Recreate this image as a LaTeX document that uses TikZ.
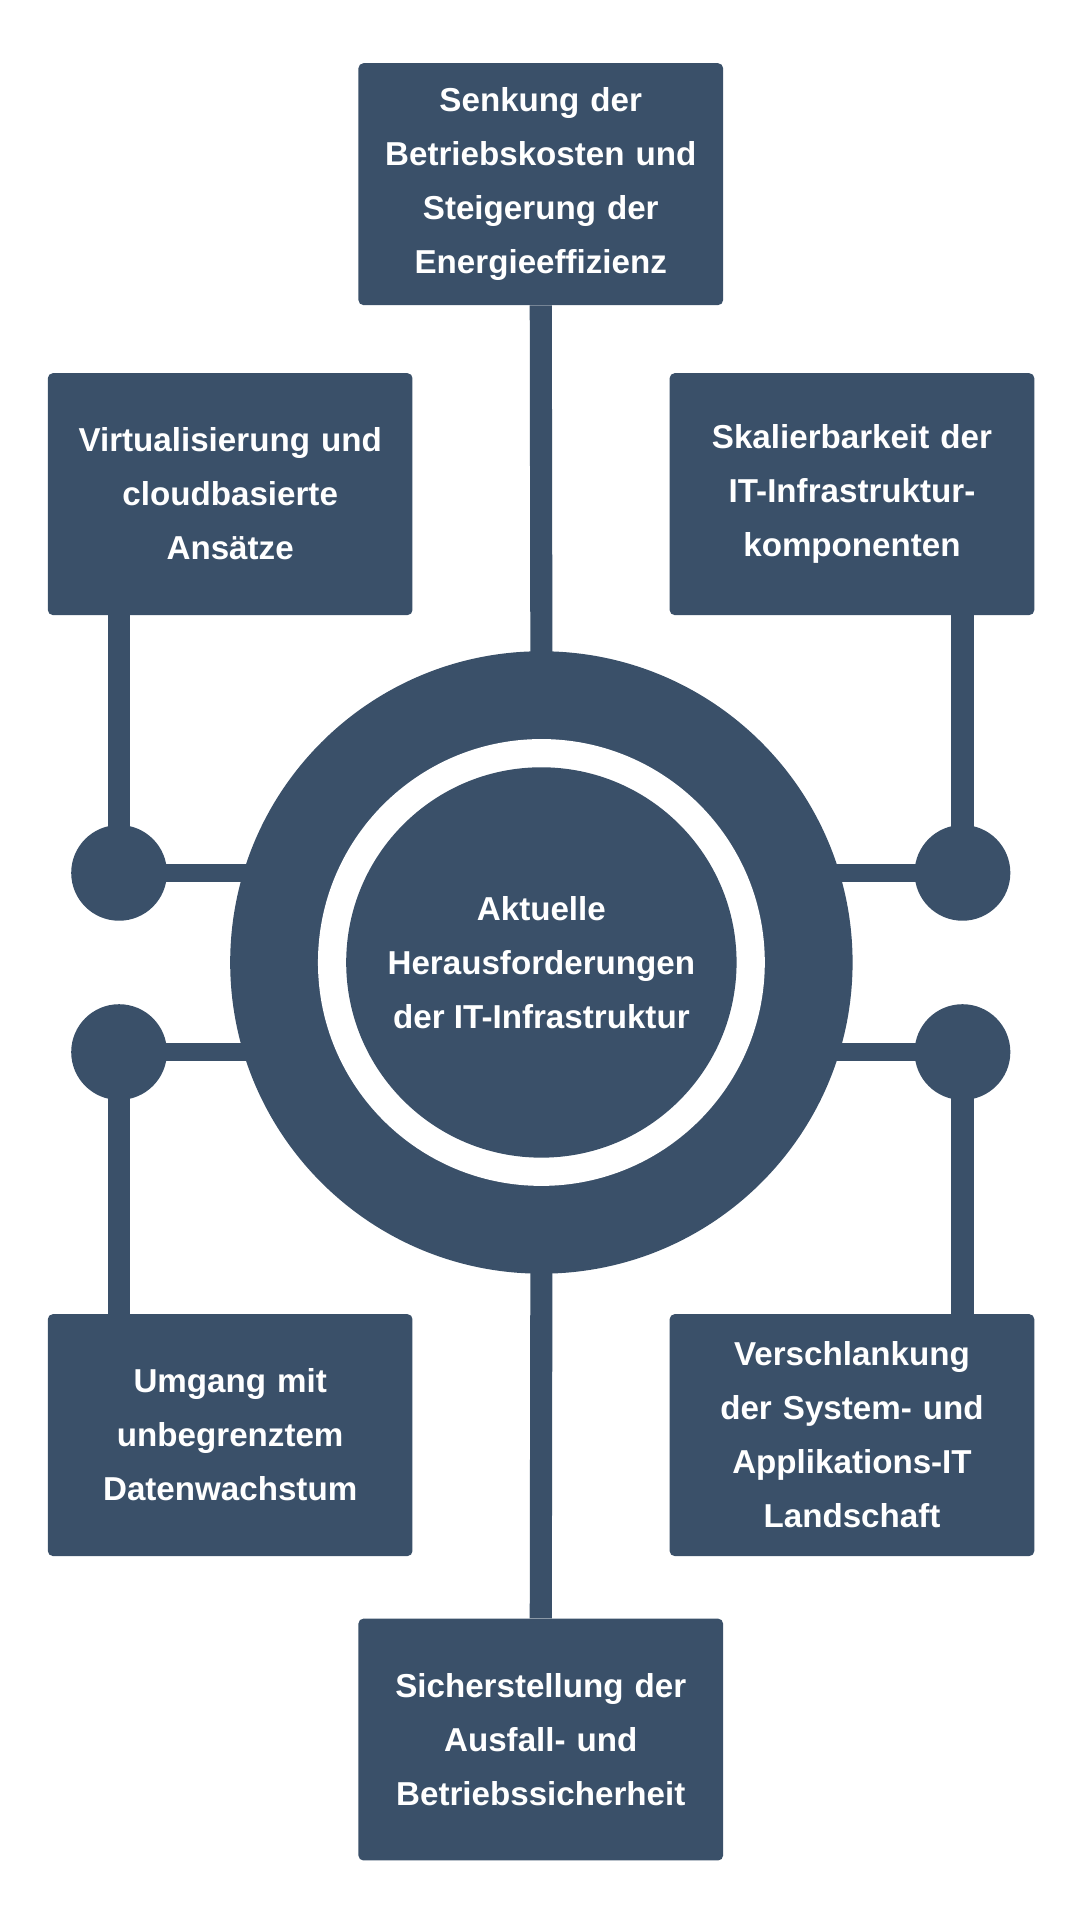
\documentclass[tikz,border=0pt]{standalone}
\usepackage{fontspec}
\setmainfont{Liberation Sans}
\definecolor{navy}{HTML}{3A5069}
\begin{document}
\begin{tikzpicture}[x=1pt,y=-1pt,
  box/.style={fill=navy,rounded corners=4pt,minimum width=297pt,minimum height=197pt,text width=285pt,align=center,text=white,font=\fontsize{27}{44}\selectfont\bfseries,inner sep=0pt},
  conn/.style={draw=navy,line width=18pt},
  hconn/.style={draw=navy,line width=15pt},
  dot/.style={circle,fill=navy,minimum size=78pt,inner sep=0pt}]
\useasboundingbox (0,0) rectangle (880,1564);
\fill[white] (0,0) rectangle (880,1564);
% circles
\node[circle,fill=navy,minimum size=507pt,inner sep=0pt] (big) at (441,784) {};
\fill[white] (441,784) circle (182);
\node[circle,fill=navy,minimum size=318pt,inner sep=0pt,text=white,align=center,font=\fontsize{27}{44}\selectfont\bfseries] (core) at (441,784) {Aktuelle\\Herausforderungen\\der IT-Infrastruktur};
% boxes
\node[box] (top) at (440.5,150) {Senkung der\\Betriebskosten und\\Steigerung der\\Energieeffizienz};
\node[box] (l1) at (187.5,402.5) {Virtualisierung und\\cloudbasierte\\Ansätze};
\node[box] (r1) at (694,402.5) {Skalierbarkeit der\\IT-Infrastruktur-\\komponenten};
\node[box] (l2) at (187.5,1169) {Umgang mit\\unbegrenztem\\Datenwachstum};
\node[box] (r2) at (694,1169) {Verschlankung\\der System- und\\Applikations-IT\\Landschaft};
\node[box] (bot) at (440.5,1417) {Sicherstellung der\\Ausfall- und\\Betriebssicherheit};
% dots
\node[dot] (dl1) at (97,711) {};
\node[dot] (dl2) at (97,857) {};
\node[dot] (dr1) at (784,711) {};
\node[dot] (dr2) at (784,857) {};
\coordinate (cl1) at (215,711);
\coordinate (cl2) at (215,857);
\coordinate (cr1) at (667,711);
\coordinate (cr2) at (667,857);
\begin{scope}[on background layer/.style={}]
\path[conn] (top.south) -- (441,540);
\path[conn] (bot.north) -- (441,1030);
\path[conn] (l1.south -| dl1) -- (dl1.center);
\path[conn] (l2.north -| dl2) -- (dl2.center);
\path[conn] (r1.south -| dr1) -- (dr1.center);
\path[conn] (r2.north -| dr2) -- (dr2.center);
\path[hconn] (dl1.center) -- (cl1);
\path[hconn] (dl2.center) -- (cl2);
\path[hconn] (dr1.center) -- (cr1);
\path[hconn] (dr2.center) -- (cr2);
\end{scope}
\end{tikzpicture}
\end{document}
